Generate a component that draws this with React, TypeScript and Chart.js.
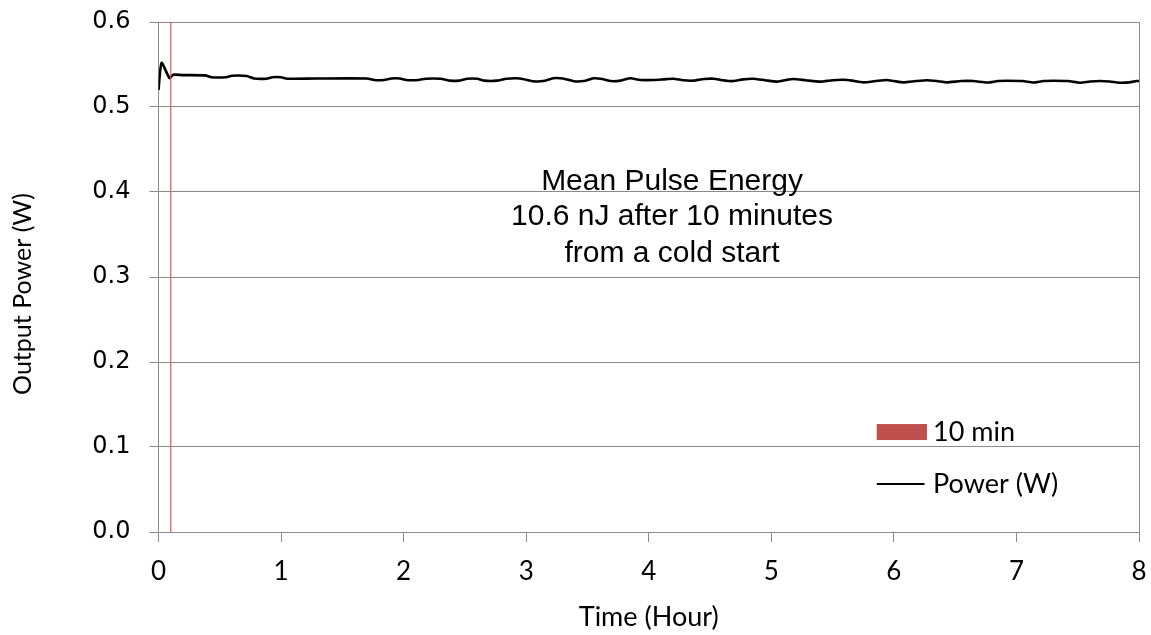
import React, { useEffect, useRef } from "react";
import { Chart, registerables } from "chart.js";

Chart.register(...registerables);

// ---- data ----
const timeHours = [
  0, 0.025, 0.09, 0.12, 0.2, 0.38, 0.43, 0.55, 0.6, 0.72, 0.78, 0.88, 0.93, 1.0, 1.05, 1.28,
  1.7, 1.76, 1.84, 1.9, 1.97, 2.02, 2.12, 2.18, 2.3, 2.38, 2.45, 2.52, 2.6, 2.66, 2.76, 2.84,
  2.95, 3.06, 3.14, 3.22, 3.3, 3.39, 3.47, 3.55, 3.62, 3.69, 3.77, 3.85, 3.93, 4.04, 4.12, 4.2,
  4.28, 4.36, 4.45, 4.53, 4.6, 4.69, 4.77, 4.85, 4.95, 5.05, 5.12, 5.18, 5.28, 5.4, 5.5, 5.59,
  5.66, 5.75, 5.85, 5.94, 6.0, 6.08, 6.18, 6.27, 6.35, 6.43, 6.55, 6.65, 6.76, 6.85, 6.92, 7.05,
  7.14, 7.22, 7.3, 7.42, 7.52, 7.6, 7.68, 7.76, 7.84, 7.92, 7.98, 8.0,
];
const powerW = [
  0.52, 0.552, 0.534, 0.538, 0.5375, 0.5372, 0.535, 0.535, 0.5368, 0.5365, 0.5335, 0.5333, 0.535, 0.535, 0.5333, 0.5335,
  0.5335, 0.5318, 0.5318, 0.5335, 0.5335, 0.5318, 0.5318, 0.5333, 0.5333, 0.531, 0.531, 0.5333, 0.5333, 0.531, 0.531, 0.5333,
  0.5335, 0.5302, 0.5305, 0.5338, 0.5335, 0.5302, 0.5305, 0.5338, 0.533, 0.5305, 0.531, 0.5338, 0.5318, 0.5318, 0.5325, 0.5333,
  0.5315, 0.531, 0.533, 0.5333, 0.5315, 0.5305, 0.5325, 0.5333, 0.5315, 0.5298, 0.5318, 0.533, 0.5315, 0.5298, 0.5315, 0.532,
  0.531, 0.529, 0.5305, 0.5318, 0.5305, 0.529, 0.5305, 0.5315, 0.5305, 0.529, 0.5305, 0.5305, 0.5288, 0.5305, 0.5308, 0.5305,
  0.5288, 0.5305, 0.5308, 0.5305, 0.5286, 0.53, 0.5306, 0.53, 0.5286, 0.529, 0.5305, 0.5305,
];
const markerTime = [0.1, 0.1];
const markerPower = [0, 0.6];
const xTickValues = [0, 1, 2, 3, 4, 5, 6, 7, 8];
const yTickValues = [0, 0.1, 0.2, 0.3, 0.4, 0.5, 0.6];
const annotationLines = ["Mean Pulse Energy", "10.6 nJ after 10 minutes", "from a cold start"];
const legendLabels = ["10 min", "Power (W)"];
const xTitle = "Time (Hour)";
const yTitle = "Output Power (W)";

const GRID = "#8a8a8a";
const RED = "#c0504d";
const SANS = "Lato, 'Open Sans', sans-serif";

export default function App() {
  const ref = useRef<HTMLCanvasElement>(null);

  useEffect(() => {
    document.body.style.margin = "0";
    const canvas = ref.current;
    if (!canvas) return;

    const overlay = {
      id: "overlay",
      afterDatasetsDraw(chart: any) {
        const { ctx, scales } = chart;
        const x = scales.x;
        const y = scales.y;
        ctx.save();
        // annotation text
        ctx.font = '30px "Liberation Sans", Arial, sans-serif';
        ctx.fillStyle = "#000";
        ctx.textAlign = "center";
        ctx.textBaseline = "middle";
        const cx = x.getPixelForValue(4.19);
        const ly = [0.412, 0.371, 0.327];
        annotationLines.forEach((t, i) => ctx.fillText(t, cx, y.getPixelForValue(ly[i])));

        // legend
        const lx0 = x.getPixelForValue(5.86);
        const lx1 = x.getPixelForValue(6.27);
        const tx = x.getPixelForValue(6.32);
        const y1 = y.getPixelForValue(0.1176);
        const y2 = y.getPixelForValue(0.0565);
        ctx.fillStyle = RED;
        ctx.fillRect(lx0, y1 - 8, lx1 - lx0, 16);
        ctx.strokeStyle = "#000";
        ctx.lineWidth = 2;
        ctx.beginPath();
        ctx.moveTo(lx0, y2);
        ctx.lineTo(x.getPixelForValue(6.25), y2);
        ctx.stroke();
        ctx.fillStyle = "#000";
        ctx.textAlign = "left";
        ctx.font = "27px " + SANS;
        ctx.fillText(legendLabels[0], tx, y1);
        ctx.fillText(legendLabels[1], tx, y2);

        // y-axis title (rotated)
        ctx.save();
        ctx.translate(23, y.getPixelForValue(0.28));
        ctx.rotate(-Math.PI / 2);
        ctx.textAlign = "center";
        ctx.textBaseline = "middle";
        ctx.font = "25px " + SANS;
        ctx.fillText(yTitle, 0, 0);
        ctx.restore();
        ctx.restore();
      },
    };

    const chart = new Chart(canvas, {
      type: "line",
      data: {
        datasets: [
          {
            label: legendLabels[0],
            data: markerTime.map((t, i) => ({ x: t, y: markerPower[i] })),
            borderColor: "#e05555",
            borderWidth: 1.2,
            pointRadius: 0,
            tension: 0,
          },
          {
            label: legendLabels[1],
            data: timeHours.map((t, i) => ({ x: t, y: powerW[i] })),
            borderColor: "#000",
            borderWidth: 2.6,
            pointRadius: 0,
            tension: 0.2,
          },
        ],
      },
      plugins: [overlay],
      options: {
        animation: false,
        responsive: true,
        maintainAspectRatio: false,
        layout: { padding: { top: 22, right: 12, left: 4, bottom: 0 } },
        plugins: { legend: { display: false }, tooltip: { enabled: false } },
        scales: {
          x: {
            type: "linear",
            min: 0,
            max: 8,
            afterBuildTicks: (s: any) => {
              s.ticks = xTickValues.map((v) => ({ value: v }));
            },
            afterFit: (s: any) => {
              s.height = 103;
              s.paddingLeft = 0;
              s.paddingRight = 0;
            },
            ticks: {
              font: { family: SANS, size: 26 },
              color: "#000",
              padding: 14,
              maxRotation: 0,
            },
            grid: {
              color: (c: any) => (c.tick && c.tick.value === 8 ? GRID : "rgba(0,0,0,0)"),
              tickColor: GRID,
              tickLength: 10,
              drawOnChartArea: true,
            },
            border: { color: GRID, width: 1 },
            title: {
              display: true,
              text: xTitle,
              font: { family: SANS, size: 27 },
              color: "#000",
              padding: { top: 0, bottom: 2 },
            },
          },
          y: {
            min: 0,
            max: 0.6,
            afterBuildTicks: (s: any) => {
              s.ticks = yTickValues.map((v) => ({ value: v }));
            },
            afterFit: (s: any) => {
              s.width = 154.5;
              s.paddingTop = 0;
              s.paddingBottom = 0;
            },
            ticks: {
              font: { family: "'DejaVu Sans', Verdana, sans-serif", size: 24 },
              color: "#000",
              padding: 19,
              callback: (v: any) => Number(v).toFixed(1),
            },
            grid: {
              color: GRID,
              tickColor: GRID,
              tickLength: 9,
            },
            border: { color: GRID, width: 1 },
            title: { display: false },
          },
        },
      },
    });
    return () => chart.destroy();
  }, []);

  return (
    <div style={{ position: "relative", width: 1151, height: 635 }}>
      <canvas ref={ref} />
    </div>
  );
}
